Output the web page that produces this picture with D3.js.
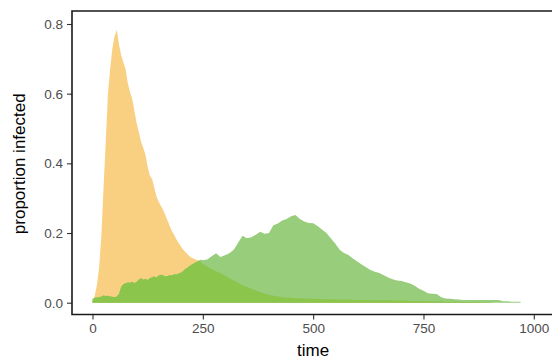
<!DOCTYPE html>
<html>
<head>
<meta charset="utf-8">
<script src="https://cdn.jsdelivr.net/npm/d3@7"></script>
<style>
  body { margin: 0; background: #fff; }
  text { font-family: "Liberation Sans", Arial, sans-serif; }
</style>
</head>
<body>
<div id="chart"></div>
<script>
// time points (finer near the early peak)
let times = [0, 5, 10, 15, 20, 25, 30, 35, 40, 45, 50, 55, 60, 65, 70, 75, 80, 85, 90, 95,
    100, 105, 110, 115, 120, 125, 130, 135, 140, 145, 150, 155, 160, 165, 170, 175, 180, 185, 190, 195,
    200, 205, 210, 215, 220, 225, 230, 235, 240, 245, 250,
    260, 270, 280, 290, 300, 310, 320, 330, 340, 350, 360, 370, 380, 390, 400,
    410, 420, 430, 440, 450, 460, 470, 480, 490, 500, 510, 520, 530, 540, 550,
    560, 570, 580, 590, 600, 610, 620, 630, 640, 650, 660, 670, 680, 690, 700,
    710, 720, 730, 740, 750, 760, 770, 780, 790, 800, 810, 820, 830, 840, 850,
    860, 870, 880, 890, 900, 910, 920, 930, 940, 950, 960, 970];

let fastInfected = [0.005, 0.02, 0.05, 0.1, 0.19, 0.33, 0.46, 0.6, 0.67, 0.73, 0.765, 0.783, 0.742, 0.71, 0.69, 0.67, 0.63, 0.605, 0.585, 0.55,
    0.515, 0.49, 0.462, 0.445, 0.425, 0.39, 0.365, 0.355, 0.33, 0.305, 0.29, 0.278, 0.266, 0.252, 0.236, 0.22, 0.205, 0.195, 0.182, 0.172,
    0.162, 0.153, 0.146, 0.139, 0.133, 0.129, 0.126, 0.123, 0.12, 0.117, 0.112,
    0.103, 0.097, 0.09, 0.085, 0.078, 0.07, 0.064, 0.057, 0.05, 0.045, 0.04, 0.035, 0.03, 0.026, 0.023,
    0.02, 0.018, 0.016, 0.015, 0.014, 0.013, 0.012, 0.012, 0.011, 0.011, 0.011, 0.010, 0.010, 0.010, 0.009,
    0.009, 0.009, 0.009, 0.008, 0.008, 0.008, 0.008, 0.008, 0.007, 0.007, 0.007, 0.007, 0.006, 0.006, 0.006,
    0.006, 0.005, 0.005, 0.005, 0.005, 0.004, 0.004, 0.004, 0.004, 0.003, 0.003, 0.003, 0.003, 0.002, 0.002,
    0.002, 0.002, 0.001, 0.001, 0.001, 0, 0, 0, 0, 0, 0, 0];

let slowInfected = [0.012, 0.014, 0.015, 0.016, 0.018, 0.021, 0.019, 0.02, 0.018, 0.017, 0.016, 0.018, 0.025, 0.045, 0.053, 0.056, 0.058, 0.057, 0.06, 0.056,
    0.06, 0.066, 0.07, 0.066, 0.068, 0.065, 0.07, 0.073, 0.075, 0.072, 0.078, 0.08, 0.079, 0.075, 0.077, 0.079, 0.078, 0.082, 0.081, 0.084,
    0.086, 0.09, 0.097, 0.1, 0.105, 0.11, 0.113, 0.117, 0.121, 0.123, 0.122,
    0.124, 0.133, 0.142, 0.131, 0.136, 0.142, 0.152, 0.172, 0.192, 0.185, 0.188, 0.195, 0.204, 0.198, 0.2,
    0.222, 0.227, 0.236, 0.24, 0.248, 0.252, 0.24, 0.233, 0.229, 0.228, 0.22, 0.21, 0.2, 0.185, 0.17,
    0.152, 0.143, 0.137, 0.127, 0.118, 0.11, 0.102, 0.094, 0.089, 0.085, 0.079, 0.072, 0.067, 0.064, 0.062,
    0.059, 0.055, 0.049, 0.04, 0.034, 0.027, 0.026, 0.025, 0.016, 0.012, 0.011, 0.01, 0.009, 0.008, 0.008,
    0.008, 0.008, 0.008, 0.008, 0.008, 0.008, 0.008, 0.004, 0.004, 0.003, 0.003, 0.003];

let xTicks = [0, 250, 500, 750, 1000];
let yTicks = [0, 0.2, 0.4, 0.6, 0.8];

let width = 552;
let height = 361;

let svg = d3.select('#chart')
    .append('svg')
    .attr('width', width)
    .attr('height', height);

let x = d3.scaleLinear().domain([0, 1000]).range([92.5, 533.8]);
let y = d3.scaleLinear().domain([0, 0.8]).range([302.7, 24]);

let panel = { left: 72, top: 11, bottom: 314.5, right: 553 };

let area = (vals) => d3.area()
    .x((d, i) => x(times[i]))
    .y0(y(0))
    .y1((d) => y(d))(vals);

// overlap of both series, drawn as its own darker region
let overlap = fastInfected.map((v, i) => Math.min(v, slowInfected[i]));

svg.append('path')
    .attr('d', area(fastInfected))
    .attr('fill', '#f9cf82');

svg.append('path')
    .attr('d', area(slowInfected))
    .attr('fill', '#98cd7c');

svg.append('path')
    .attr('d', area(overlap))
    .attr('fill', '#8bc54b');

// axes
let xAxis = d3.axisBottom(x).tickValues(xTicks).tickSize(5).tickPadding(4).tickFormat(d3.format('d'));
let yAxis = d3.axisLeft(y).tickValues(yTicks).tickSize(5).tickPadding(4).tickFormat(d3.format('.1f'));

let gx = svg.append('g')
    .attr('transform', `translate(0,${panel.bottom})`)
    .call(xAxis);
let gy = svg.append('g')
    .attr('transform', `translate(${panel.left},0)`)
    .call(yAxis);

[gx, gy].forEach(g => {
    g.select('.domain').remove();
    g.selectAll('line').attr('stroke', '#333').attr('stroke-width', 1.1);
    g.selectAll('text').attr('fill', '#4d4d4d').style('font-size', '13.5px');
});

svg.append('path')
    .attr('d', `M${panel.right},${panel.top}H${panel.left}V${panel.bottom}H${panel.right}`)
    .attr('fill', 'none')
    .attr('stroke', '#1a1a1a')
    .attr('stroke-width', 1.6);

svg.append('text')
    .attr('x', x(500))
    .attr('y', 356)
    .attr('text-anchor', 'middle')
    .style('font-size', '17px')
    .attr('fill', '#000')
    .text('time');

svg.append('text')
    .attr('transform', `translate(25,${(panel.top + panel.bottom) / 2 + 1}) rotate(-90)`)
    .attr('text-anchor', 'middle')
    .style('font-size', '17px')
    .attr('fill', '#000')
    .text('proportion infected');
</script>
</body>
</html>
